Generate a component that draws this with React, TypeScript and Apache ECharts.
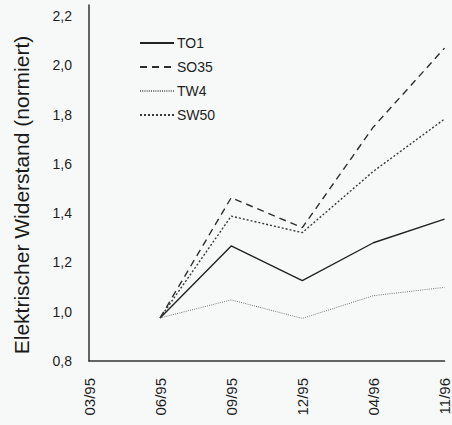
import React, { useEffect, useRef } from 'react';
import * as echarts from 'echarts';

const categories = ['03/95', '06/95', '09/95', '12/95', '04/96', '11/96'];
const seriesNames = ['TO1', 'SO35', 'TW4', 'SW50'];
const TO1 = ['-', 0.975, 1.267, 1.126, 1.28, 1.376];
const SO35 = ['-', 0.975, 1.463, 1.341, 1.75, 2.07];
const TW4 = ['-', 0.975, 1.048, 0.973, 1.065, 1.099];
const SW50 = ['-', 0.975, 1.388, 1.321, 1.57, 1.782];
const yTitle = 'Elektrischer Widerstand (normiert)';

const FONT = '"Liberation Sans", Arial, Helvetica, sans-serif';

export default function App() {
  const ref = useRef<HTMLDivElement>(null);
  useEffect(() => {
    if (!ref.current) return;
    const chart = echarts.init(ref.current, undefined, { renderer: 'svg' });
    const styles: any[] = [
      { color: '#222', width: 1.4, type: 'solid' },
      { color: '#2e2e2e', width: 1.4, type: [7, 5] },
      { color: '#777', width: 1, type: [1, 1.2] },
      { color: '#3a3a3a', width: 1.4, type: [2, 2] },
    ];
    const datas = [TO1, SO35, TW4, SW50];
    chart.setOption({
      animation: false,
      backgroundColor: '#f7f9f9',
      textStyle: { fontFamily: FONT },
      grid: { left: 89, right: 4, top: 5, bottom: 64, containLabel: false },
      legend: {
        orient: 'vertical',
        left: 139,
        top: 36,
        padding: 0,
        itemWidth: 34,
        itemHeight: 14,
        itemGap: 10,
        data: seriesNames,
        itemStyle: { opacity: 0 },
        textStyle: { fontSize: 14, color: '#1e1e1e', fontFamily: FONT, padding: [0, 0, 0, -2] },
      },
      xAxis: {
        type: 'category',
        data: categories,
        boundaryGap: false,
        axisLine: { lineStyle: { color: '#333', width: 1.5 } },
        axisTick: { show: false },
        axisLabel: { rotate: 90, margin: 17, fontSize: 15, color: '#1e1e1e', fontFamily: FONT },
        splitLine: { show: false },
      },
      yAxis: {
        type: 'value',
        min: 0.8,
        max: 2.245,
        interval: 0.2,
        axisLine: { show: true, lineStyle: { color: '#333', width: 1.5 } },
        axisTick: { show: false },
        splitLine: { show: false },
        axisLabel: {
          margin: 17,
          fontSize: 14,
          color: '#1e1e1e',
          fontFamily: FONT,
          formatter: (v: number) => {
            if (Math.abs(v * 5 - Math.round(v * 5)) > 1e-6) return '';
            return v.toFixed(1).replace('.', ',');
          },
        },
      },
      graphic: [
        {
          type: 'text',
          x: 21,
          y: 195,
          rotation: Math.PI / 2,
          style: {
            text: yTitle,
            fontSize: 21,
            fontFamily: FONT,
            fill: '#1a1a1a',
            align: 'center',
            verticalAlign: 'middle',
          },
        },
      ],
      series: seriesNames.map((name, i) => ({
        name,
        type: 'line',
        data: datas[i],
        symbol: 'none',
        connectNulls: false,
        lineStyle: styles[i],
        itemStyle: { color: styles[i].color },
      })),
    });
    return () => chart.dispose();
  }, []);
  return <div ref={ref} style={{ position: 'fixed', left: 0, top: 0, width: 452, height: 425 }} />;
}
